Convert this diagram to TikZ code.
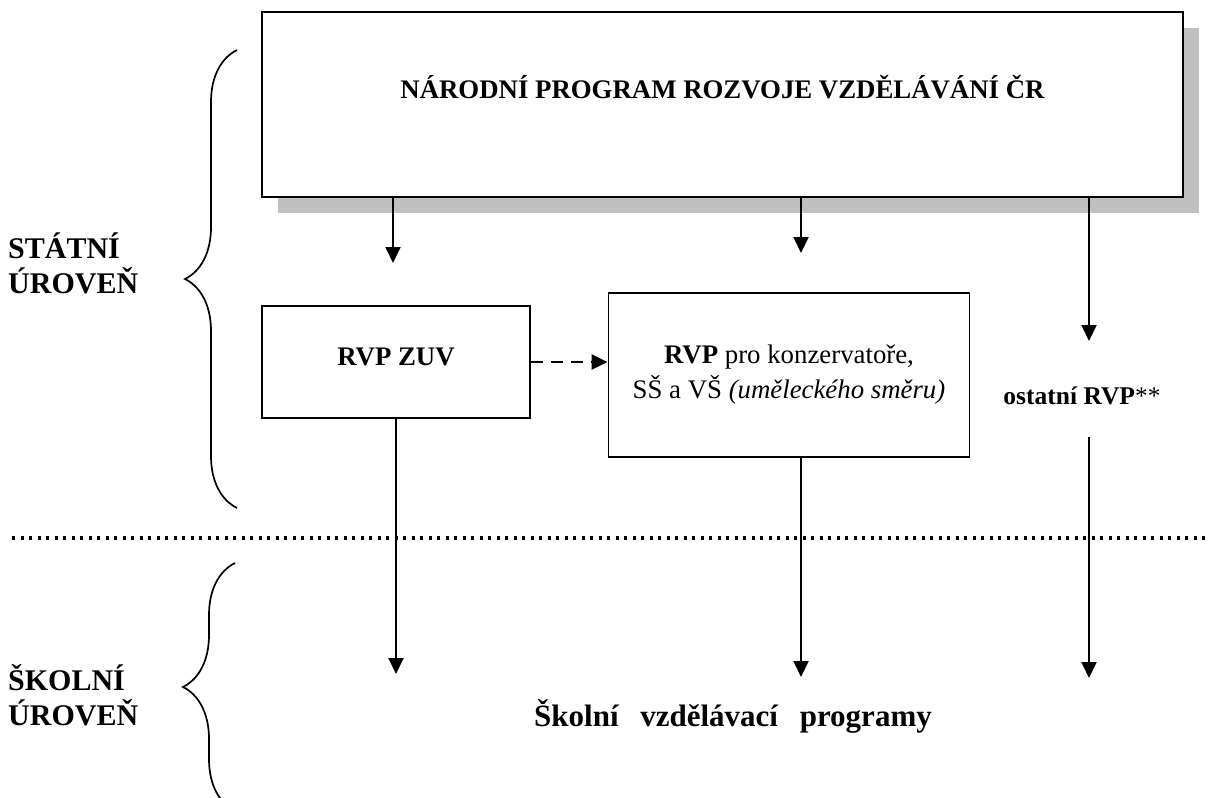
\documentclass[tikz,border=0pt]{standalone}
\usepackage{fontspec}
\setmainfont{Liberation Serif}
\usetikzlibrary{arrows.meta,positioning,shadows,decorations.pathreplacing}
\definecolor{shadowgrey}{HTML}{C0C0C0}
\tikzset{
  box/.style={draw, line width=1.9pt, fill=white, inner sep=0pt, align=center, font=\fontsize{26.8}{35}\selectfont},
  arr/.style={-{Triangle[length=16pt,width=15pt]}, line width=2pt},
  dasharr/.style={arr, line width=2.6pt, dash pattern=on 12pt off 8pt},
  dotline/.style={line width=3.6pt, dash pattern=on 3pt off 5.5pt},
  level/.style={align=left, anchor=west, inner sep=0pt, font=\bfseries\fontsize{30}{35}\selectfont},
  levelbrace/.style={decorate, decoration={brace, amplitude=52pt}, line width=1.7pt},
}

\begin{document}
\begin{tikzpicture}[x=1pt, y=-1pt]
\clip (0,0) rectangle (1208,798);
\useasboundingbox (0,0) rectangle (1208,798);

% boxes
\node [box, drop shadow={shadow xshift=16pt, shadow yshift=-16pt, fill=shadowgrey, opacity=1},
       minimum width=921pt, minimum height=185pt, text height=20pt, text depth=33pt]
       (narodni) at (722.5,104.5) {\bfseries NÁRODNÍ PROGRAM ROZVOJE VZDĚLÁVÁNÍ ČR};
\node [box, minimum width=268pt, minimum height=112pt, text height=19pt, text depth=12pt]
       (zuv) at (396,362) {\bfseries RVP ZUV};
\node [box, minimum width=361pt, minimum height=164pt] (rvp) at (789,375)
       {\textbf{RVP} pro konzervatoře,\\SŠ a VŠ \textit{(uměleckého směru)}};
\node [inner sep=0pt, font=\fontsize{25.5}{30}\selectfont] (ostatni) at (1082,396) {\textbf{ostatní RVP}**};
\node [inner sep=0pt, font=\bfseries\fontsize{31}{36}\selectfont] (svp) at (733,716)
       {Školní\hspace{0.7em}vzdělávací\hspace{0.7em}programy};

% levels
\node [level] (statni) at (8,263) {STÁTNÍ\\ÚROVEŇ};
\node [level] (skolni) at (8,695) {ŠKOLNÍ\\ÚROVEŇ};
\draw [levelbrace] (237,508) -- (237,50);
\draw [levelbrace] (235,811) -- (235,563);
\draw [dotline] (12,538) -- (1208,538);

% arrows
\coordinate (tipzuv) at (393,263);
\coordinate (tiprvp) at (801,253);
\coordinate (tipost) at (1089,341);
\draw [arr] (narodni.south -| tipzuv) -- (tipzuv);
\draw [arr] (narodni.south -| tiprvp) -- (tiprvp);
\draw [arr] (narodni.south -| tipost) -- (tipost);
\draw [dasharr] (zuv.east) -- (rvp.west |- zuv.east);

\coordinate (endzuv) at (396,674);
\coordinate (endrvp) at (801,677);
\coordinate (startost) at (1089,437);
\coordinate (endost) at (1089,678);
\draw [arr] (zuv.south) -- (endzuv);
\draw [arr] (rvp.south -| endrvp) -- (endrvp);
\draw [arr] (startost) -- (endost);

\end{tikzpicture}
\end{document}
